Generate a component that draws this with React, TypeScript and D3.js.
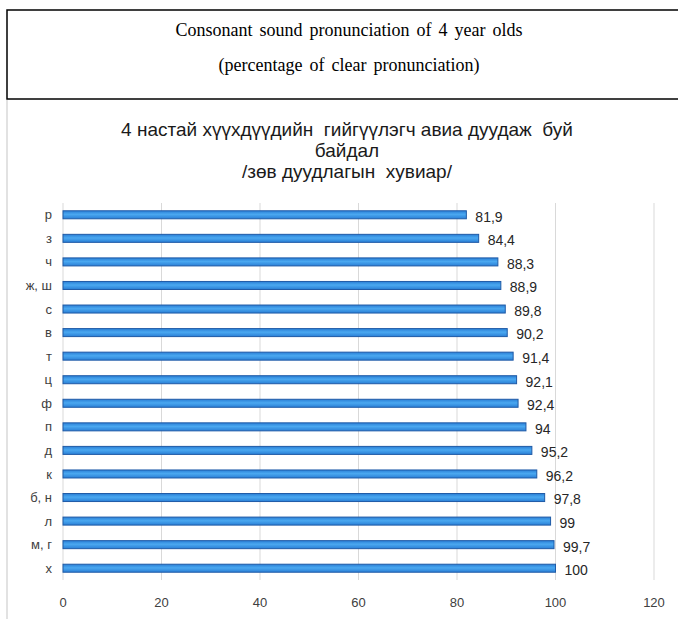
import { useEffect, useRef } from "react";
import * as d3 from "d3";

const categories = ["р", "з", "ч", "ж, ш", "с", "в", "т", "ц", "ф", "п", "д", "к", "б, н", "л", "м, г", "х"];
const values = [81.9, 84.4, 88.3, 88.9, 89.8, 90.2, 91.4, 92.1, 92.4, 94, 95.2, 96.2, 97.8, 99, 99.7, 100];
const xTicks = [0, 20, 40, 60, 80, 100, 120];
const headerLines = ["Consonant sound pronunciation of 4 year olds", "(percentage of clear pronunciation)"];
const titleLines = ["4 настай хүүхдүүдийн  гийгүүлэгч авиа дуудаж  буй", "байдал", "/зөв дуудлагын  хувиар/"];

const App = () => {
  const svgRef = useRef<SVGSVGElement>(null);

  useEffect(() => {
    if (!svgRef.current) return;
    d3.select(svgRef.current).selectAll("*").remove();

    const width = 678;
    const height = 619;
    const margin = { top: 203, left: 63, right: 24, bottom: 39 };

    const svg = d3.select(svgRef.current)
      .attr("width", width)
      .attr("height", height)
      .style("background", "#fff");

    // gradient for bars
    const defs = svg.append("defs");
    const grad = defs.append("linearGradient")
      .attr("id", "barGrad")
      .attr("x1", 0).attr("y1", 0).attr("x2", 0).attr("y2", 1);
    grad.append("stop").attr("offset", "0%").attr("stop-color", "#2a7fd6");
    grad.append("stop").attr("offset", "45%").attr("stop-color", "#4aa8f0");
    grad.append("stop").attr("offset", "100%").attr("stop-color", "#2a7fd6");

    // header box
    svg.append("rect")
      .attr("x", 7).attr("y", 10)
      .attr("width", 690).attr("height", 89)
      .attr("fill", "none")
      .attr("stroke", "#000")
      .attr("stroke-width", 1.5);

    svg.selectAll(".header")
      .data(headerLines)
      .join("text")
      .attr("class", "header")
      .attr("x", 349)
      .attr("y", (_, i) => 36 + i * 35)
      .attr("text-anchor", "middle")
      .style("font-family", "'Liberation Serif', 'Times New Roman', serif")
      .style("font-size", "18px")
      .style("word-spacing", "2.5px")
      .style("fill", "#000")
      .text(d => d);

    // chart area left border
    svg.append("line")
      .attr("x1", 7).attr("x2", 7)
      .attr("y1", 100).attr("y2", height)
      .attr("stroke", "#d9d9d9")
      .attr("stroke-width", 1.5);

    svg.selectAll(".title")
      .data(titleLines)
      .join("text")
      .attr("class", "title")
      .attr("x", 347)
      .attr("y", (_, i) => 136 + i * 21)
      .attr("text-anchor", "middle")
      .style("font-family", "'Liberation Sans Narrow', 'Liberation Sans', Arial, sans-serif")
      .style("font-size", "19px")
      .style("white-space", "pre")
      .style("fill", "#1a1a1a")
      .text(d => d);

    const innerHeight = height - margin.top - margin.bottom;

    const x = d3.scaleLinear()
      .domain([0, 120])
      .range([margin.left, 654]);

    const y = d3.scaleBand()
      .domain(categories)
      .range([margin.top, margin.top + innerHeight])
      .paddingInner(0.66)
      .paddingOuter(0.33);

    // gridlines
    svg.append("g")
      .selectAll("line")
      .data(xTicks)
      .join("line")
      .attr("x1", d => x(d)).attr("x2", d => x(d))
      .attr("y1", margin.top).attr("y2", margin.top + innerHeight)
      .attr("stroke", "#d9d9d9")
      .attr("stroke-width", 1);

    // x tick labels
    svg.append("g")
      .selectAll("text")
      .data(xTicks)
      .join("text")
      .attr("x", d => x(d))
      .attr("y", 607)
      .attr("text-anchor", "middle")
      .style("font-family", "'Liberation Sans', Arial, sans-serif")
      .style("font-size", "13px")
      .style("fill", "#404040")
      .text(d => d);

    // bars
    svg.append("g")
      .selectAll("rect")
      .data(values)
      .join("rect")
      .attr("x", x(0))
      .attr("y", (_, i) => y(categories[i])!)
      .attr("width", d => x(d) - x(0))
      .attr("height", y.bandwidth())
      .attr("fill", "url(#barGrad)")
      .attr("stroke", "#1f5aa6")
      .attr("stroke-width", 1);

    // category labels
    svg.append("g")
      .selectAll("text")
      .data(categories)
      .join("text")
      .attr("x", 52)
      .attr("y", d => y(d)! + y.bandwidth() / 2)
      .attr("dy", "0.35em")
      .attr("text-anchor", "end")
      .style("font-family", "'Liberation Sans', Arial, sans-serif")
      .style("font-size", "13px")
      .style("fill", "#404040")
      .text(d => d);

    // value labels
    svg.append("g")
      .selectAll("text")
      .data(values)
      .join("text")
      .attr("x", d => x(d) + 9)
      .attr("y", (_, i) => y(categories[i])! + y.bandwidth() / 2 + 2)
      .attr("dy", "0.35em")
      .style("font-family", "'Liberation Sans', Arial, sans-serif")
      .style("font-size", "14px")
      .style("fill", "#262626")
      .text(d => String(d).replace(".", ","));
  }, []);

  return (
    <div style={{ position: "absolute", left: 0, top: 0 }}>
      <svg ref={svgRef}></svg>
    </div>
  );
};

export default App;
